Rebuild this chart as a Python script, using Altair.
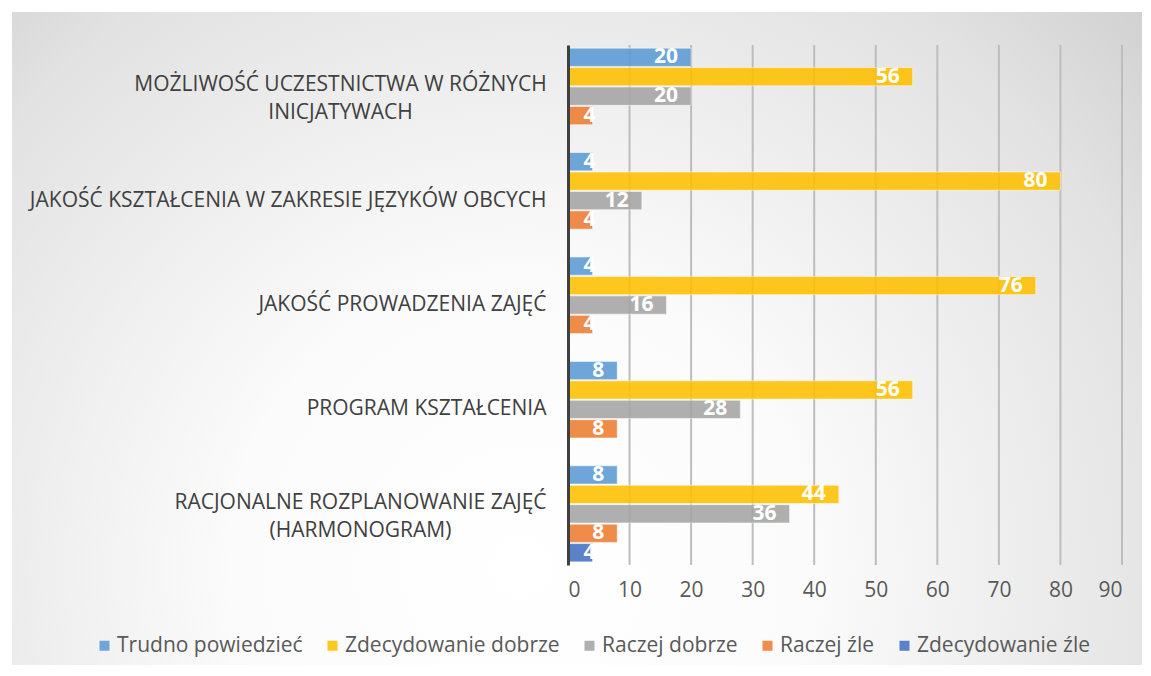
import json
import altair as alt
import pandas as pd

categories = [
    "MOŻLIWOŚĆ UCZESTNICTWA W RÓŻNYCH\nINICJATYWACH",
    "JAKOŚĆ KSZTAŁCENIA W ZAKRESIE JĘZYKÓW OBCYCH",
    "JAKOŚĆ PROWADZENIA ZAJĘĆ",
    "PROGRAM KSZTAŁCENIA",
    "RACJONALNE ROZPLANOWANIE ZAJĘĆ\n(HARMONOGRAM)",
]
series = ["Trudno powiedzieć", "Zdecydowanie dobrze", "Raczej dobrze", "Raczej źle", "Zdecydowanie źle"]
trudno_powiedziec = [20, 4, 4, 8, 8]
zdecydowanie_dobrze = [56, 80, 76, 56, 44]
raczej_dobrze = [20, 12, 16, 28, 36]
raczej_zle = [4, 4, 4, 8, 8]
zdecydowanie_zle = [0, 0, 0, 0, 4]
colors = ["#5B9BD5", "#FFC000", "#A5A5A5", "#ED7D31", "#4472C4"]
x_ticks = [0, 10, 20, 30, 40, 50, 60, 70, 80, 90]

values_by_series = [trudno_powiedziec, zdecydowanie_dobrze, raczej_dobrze, raczej_zle, zdecydowanie_zle]
rows = []
for s, vals in zip(series, values_by_series):
    for c, v in zip(categories, vals):
        rows.append({"category": c, "series": s, "value": v})
df = pd.DataFrame(rows)

FONT = "Open Sans"

bg = alt.Chart(alt.Data(values=[{"a": 1}])).mark_rect(
    color={
        "gradient": "radial",
        "x1": 0.45, "y1": 0.7, "r1": 0.0,
        "x2": 0.45, "y2": 0.7, "r2": 0.85,
        "stops": [
            {"offset": 0.0, "color": "#ffffff"},
            {"offset": 0.3, "color": "#fbfbfb"},
            {"offset": 0.7, "color": "#e2e2e2"},
            {"offset": 1.0, "color": "#c4c4c4"},
        ],
    }
).encode(
    x=alt.value(-556), x2=alt.value(577), y=alt.value(-33), y2=alt.value(625)
)

x_scale = alt.Scale(domain=[0, 90], nice=False)
x_axis = alt.Axis(
    title=None,
    values=x_ticks,
    labelFont=FONT,
    labelFontSize=21,
    labelColor="#595959",
    labelPadding=14,
    ticks=False,
    domain=False,
    grid=False,
    zindex=2,
)

grid = alt.Chart(pd.DataFrame({"tick": x_ticks[1:]})).mark_rule(
    color="#bdbdbd", strokeWidth=2
).encode(
    x=alt.X("tick:Q", scale=x_scale, axis=x_axis),
    y=alt.value(0),
    y2=alt.value(520),
)

multi_test = "indexof(datum.value, '\\n') >= 0"
test_first = "datum.value == " + json.dumps(categories[0])
test_last = "datum.value == " + json.dumps(categories[4])

y_enc = alt.Y(
    "category:N",
    sort=categories,
    scale=alt.Scale(paddingInner=0.08, paddingOuter=0.03),
    axis=alt.Axis(
        title=None,
        labelExpr="split(datum.label, '\\n')",
        labelFont=FONT,
        labelFontSize=21,
        labelColor="#404040",
        labelLineHeight=28,
        labelAlign={"condition": {"test": multi_test, "value": "center"}, "value": "right"},
        labelPadding={
            "condition": [
                {"test": test_first, "value": 228},
                {"test": test_last, "value": 208},
            ],
            "value": 22,
        },
        labelOffset={"condition": {"test": multi_test, "value": -11}, "value": 0},
        ticks=False,
        domain=True,
        domainColor="#404040",
        domainWidth=3,
        grid=False,
        labelLimit=700,
        zindex=2,
    ),
)
yoff_enc = alt.YOffset("series:N", sort=series, scale=alt.Scale(paddingInner=0.06, paddingOuter=0))
x_enc = alt.X("value:Q", scale=x_scale, axis=x_axis)

base = alt.Chart(df).transform_filter("datum.value > 0")

bars = base.mark_bar(opacity=0.88, stroke="#ffffff", strokeWidth=0.8, strokeOpacity=0.7).encode(
    y=y_enc,
    yOffset=yoff_enc,
    x=x_enc,
    color=alt.Color(
        "series:N",
        sort=series,
        scale=alt.Scale(domain=series, range=colors),
        legend=alt.Legend(
            title=None,
            orient="none",
            legendX=-474,
            legendY=590,
            direction="horizontal",
            columns=5,
            symbolType="square",
            symbolSize=100,
            symbolStrokeWidth=0,
            labelFont=FONT,
            labelFontSize=21,
            labelColor="#595959",
            labelLimit=400,
            columnPadding=19,
            labelOffset=2,
            zindex=2,
        ),
    ),
)

label_enc = dict(
    y=alt.Y("category:N", sort=categories),
    yOffset=alt.YOffset("series:N", sort=series),
    x=alt.X("value:Q"),
    text=alt.Text("value:Q"),
)

labels_big = base.transform_filter("datum.value >= 8").mark_text(
    align="right", baseline="middle", dx=-13, color="white", font=FONT, fontSize=21, fontWeight="bold"
).encode(**label_enc)

labels_small = base.transform_filter("datum.value < 8").mark_text(
    align="right", baseline="middle", dx=3, color="white", font=FONT, fontSize=21, fontWeight="bold"
).encode(**label_enc)

chart = alt.layer(bg, grid, bars, labels_big, labels_small).properties(
    width=554,
    height=520,
    padding={"left": 560, "top": 37, "right": 20, "bottom": 100},
    autosize="none",
    background="white",
).configure_view(stroke=None)

chart.save("out.html", embed_options={"renderer": "svg", "actions": False})
